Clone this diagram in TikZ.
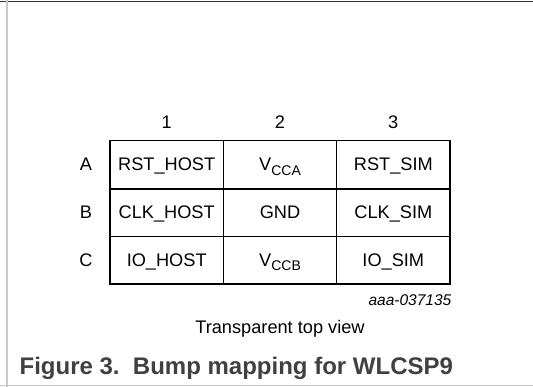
\documentclass[tikz,border=0pt]{standalone}
\usepackage{fontspec}
\setmainfont{Liberation Sans}
\definecolor{rulegray}{HTML}{C8C8C8}
\definecolor{topgray}{HTML}{333333}
\definecolor{capgray}{HTML}{404040}
\newcommand{\subtxt}[1]{\raisebox{-0.22em}{\fontsize{14}{14}\selectfont #1}}
\begin{document}
\begin{tikzpicture}[x=1pt,y=-1pt,
  celltxt/.style={font=\fontsize{18.2}{20}\selectfont, anchor=base, inner sep=0pt},
  gridline/.style={line width=1.3pt, black}]
\useasboundingbox (0,0) rectangle (533,387);
% frame
\draw[topgray, line width=1.3pt] (0,1.2) -- (533,1.2);
\draw[rulegray, line width=2pt] (7,0) -- (7,387);
\draw[rulegray, line width=1pt] (0,385.5) -- (533,385.5);
% grid
\coordinate (tl) at (110,140.7);
\coordinate (br) at (450,284);
\draw[gridline] (tl) rectangle (br);
\draw[gridline] (223.3,140.7) -- (223.3,284);
\draw[gridline] (336.7,140.7) -- (336.7,284);
\draw[gridline] (110,189) -- (450,189);
\draw[gridline] (110,236.7) -- (450,236.7);
% headers
\node[celltxt] (h1) at (166.7,128.3) {1};
\node[celltxt] (h2) at (280,128.3) {2};
\node[celltxt] (h3) at (393.3,128.3) {3};
\node[celltxt] (rA) at (86,171) {A};
\node[celltxt] (rB) at (86,219) {B};
\node[celltxt] (rC) at (86,266.7) {C};
% cells
\node[celltxt] (a1) at (166.7,171) {RST\_HOST};
\node[celltxt] (a2) at (280,171) {V\subtxt{CCA}};
\node[celltxt] (a3) at (393.3,171) {RST\_SIM};
\node[celltxt] (b1) at (166.7,219) {CLK\_HOST};
\node[celltxt] (b2) at (280,219) {GND};
\node[celltxt] (b3) at (393.3,219) {CLK\_SIM};
\node[celltxt] (c1) at (166.7,266.7) {IO\_HOST};
\node[celltxt] (c2) at (280,266.7) {V\subtxt{CCB}};
\node[celltxt] (c3) at (393.3,266.7) {IO\_SIM};
% labels
\node[font=\fontsize{15.5}{17}\selectfont\itshape, anchor=base east, inner sep=0pt] (code) at (451.5,305.5) {aaa-037135};
\node[celltxt] (view) at (280,333.4) {Transparent top view};
\node[font=\fontsize{24}{26}\selectfont\bfseries, text=capgray, anchor=base west, inner sep=0pt] (cap) at (19.4,374.6) {Figure 3.\ \ Bump mapping for WLCSP9};
\end{tikzpicture}
\end{document}
